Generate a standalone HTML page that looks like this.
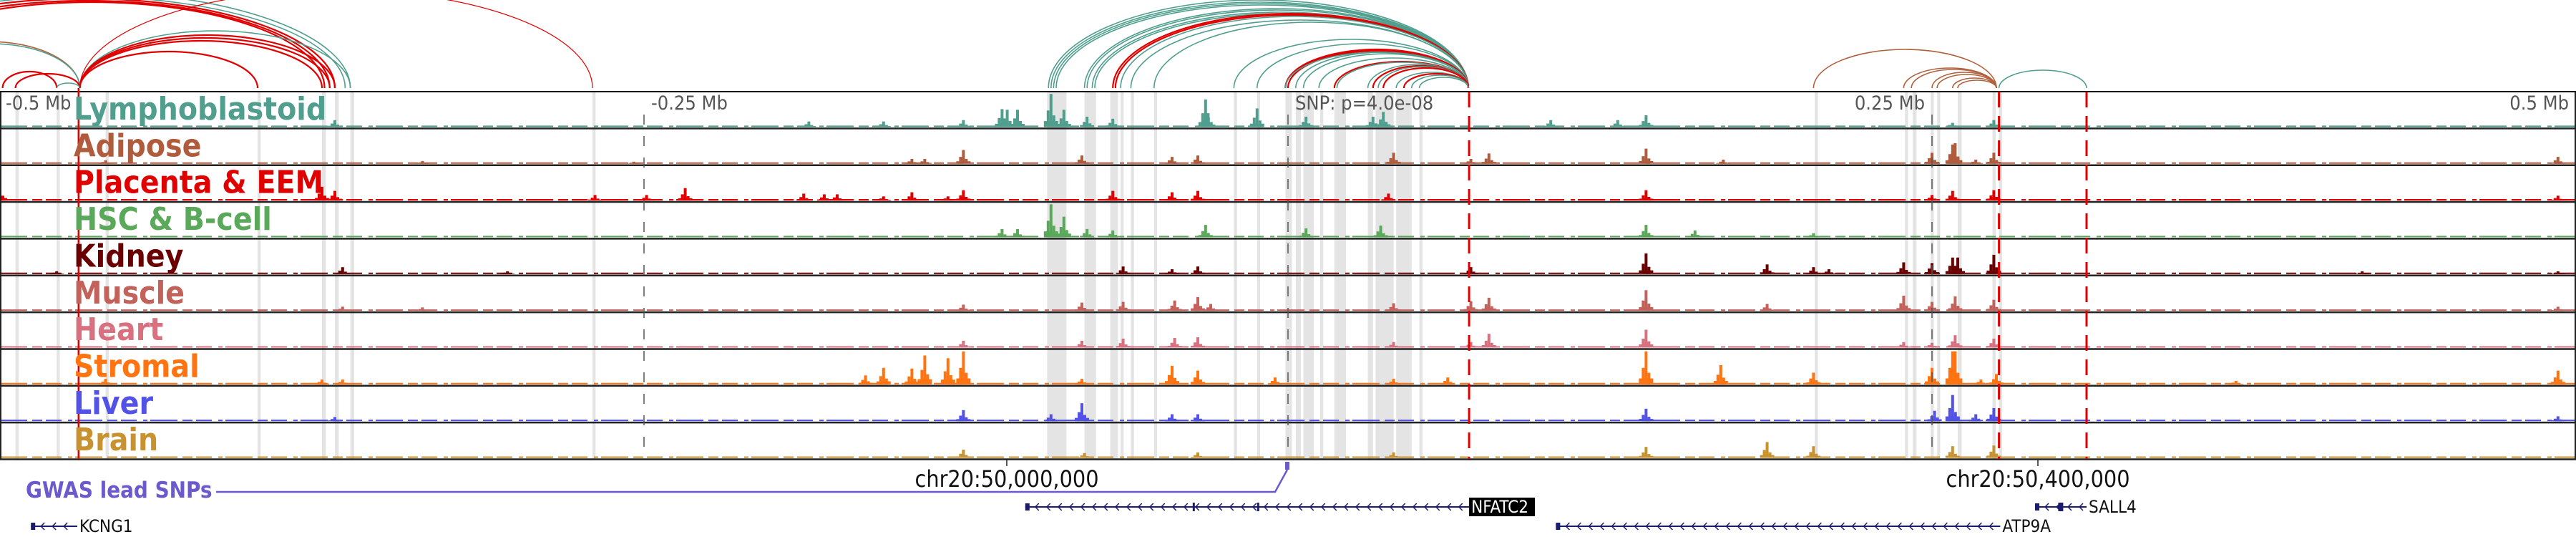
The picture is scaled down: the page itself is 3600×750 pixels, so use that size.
<!DOCTYPE html>
<html><head><meta charset="utf-8">
<style>
html,body{margin:0;padding:0;background:#fff;}
svg{display:block;}
text{font-family:"DejaVu Sans Condensed","DejaVu Sans","Liberation Sans",sans-serif;}
</style></head>
<body>
<svg id="chart" width="3600" height="750" viewBox="0 0 3600 750" xmlns="http://www.w3.org/2000/svg">
<g id="arcs"></g>
<g id="bands"></g>
<g id="tracks"></g>
<g id="lines"></g>
<g id="labels"></g>
<g id="bottom"></g>
</svg>
<script>
// ---- data ----
const trackNames = ["Lymphoblastoid","Adipose","Placenta & EEM","HSC & B-cell","Kidney","Muscle","Heart","Stromal","Liver","Brain"];
const trackColors = ["#4f9e8e","#b05c3c","#e00000","#5aa85a","#6b0000","#c3625a","#d8707f","#ff7410","#5252e6","#c8922e"];
// peaks: [kb offset from SNP, signal height]
const peaksLympho = [[-370,10],[-186,8],[-157,8],[-126,10],[-111,26],[-109,25],[-105,25],[-92,48],[-87,25],[-78,15],[-68,12],[-32,40],[-31,20],[-12,27],[7,15],[33,15],[37,22],[102,10],[128,10],[139,17],[258,6],[274,10]];
const peaksAdipose = [[-459,5],[-336,4],[-254,3],[-146,7],[-141,7],[-126,20],[-80,12],[-45,10],[-35,12],[41,16],[71,7],[78,15],[139,22],[169,6],[250,16],[258,28],[259,30],[267,6],[274,16],[493,10]];
const peaksPlacenta = [[-500,20],[-375,20],[-370,14],[-269,8],[-249,8],[-234,18],[-188,10],[-180,9],[-175,9],[-157,6],[-146,12],[-132,6],[-126,15],[-68,14],[-45,12],[-35,14],[39,10],[139,15],[250,8],[258,14],[274,15],[493,7]];
const peaksHSC = [[-111,12],[-105,12],[-92,48],[-87,30],[-78,12],[-68,10],[-32,18],[7,13],[36,17],[139,18],[158,10],[204,6]];
const peaksKidney = [[-478,4],[-367,10],[-303,4],[-64,11],[-45,7],[-35,11],[71,10],[139,30],[186,14],[204,10],[210,7],[239,17],[250,16],[258,24],[260,24],[274,28],[417,4],[493,4]];
const peaksMuscle = [[-367,6],[-336,5],[-126,9],[-80,12],[-64,13],[-44,15],[-35,20],[-30,10],[41,11],[71,14],[78,19],[139,30],[186,10],[239,22],[250,13],[259,21],[274,16],[493,6]];
const peaksHeart = [[-126,10],[-80,10],[-64,13],[-44,14],[-35,15],[41,8],[71,8],[78,20],[139,26],[239,8],[250,7],[259,18],[274,13]];
const peaksStromal = [[-459,8],[-375,7],[-367,7],[-164,13],[-157,24],[-146,23],[-141,42],[-132,38],[-126,48],[-80,8],[-45,27],[-35,20],[-5,10],[41,8],[62,10],[139,48],[168,28],[204,17],[250,24],[258,48],[259,48],[269,7],[275,15],[368,5],[493,20]];
const peaksLiver = [[-370,6],[-126,16],[-92,10],[-80,26],[-45,10],[-35,10],[139,18],[251,15],[258,38],[267,10],[274,19],[493,7]];
const peaksBrain = [[-126,12],[-79,7],[-35,8],[41,8],[139,16],[186,23],[204,17],[258,17],[274,18]];
const allPeaks = [peaksLympho,peaksAdipose,peaksPlacenta,peaksHSC,peaksKidney,peaksMuscle,peaksHeart,peaksStromal,peaksLiver,peaksBrain];
// highlight bands [start kb, width kb]
const bandStarts = [-494,-478,-459,-400,-375,-370,-364,-270,-93.5,-79,-69,-65,-61,-52,-21,-12,-1,3,6,12.5,18,31,34,42,51,204.5,239.5,242.5,249.5,252,260,273.5,276];
const bandWidths = [1.2,1.2,1.2,1.2,1.5,1.5,1.5,1.2,7.5,4.5,3,1.2,1.2,1.2,1.2,1.2,2.5,2,4,1.2,4.5,2,7,6,1.2,1.2,1.2,1.5,1.2,1.2,1.5,1.2,1.2];
// axis ticks
const tickKb = [-500,-250,0,250,500];
const tickText = ["-0.5 Mb","-0.25 Mb","SNP: p=4.0e-08","0.25 Mb","0.5 Mb"];
const redDashedKb = [70.3,276,310];
const redSolidKb = -469.5;
// arcs: start kb, end kb, height, color key
const arcStart = [-93,-92,-91,-90,-79,-78,-76,-75,-68,-67,-65,-61,-52,-21,-12,-1,-1,0,-1,3,6,12,18,19,31,33,35,37,42,45,48,51,
  -575,-570,-565,-560,-555,-469,-469,-469,-469,-469,-540,-538,-499,-494,-478,-469,
  204,239,242,250,252,258,260,276];
const arcEnd = [70,70,70,70,70,70,70,70,70,70,70,70,70,70,70,70,70,70,70,70,70,70,70,70,70,70,70,70,70,70,70,70,
  -364,-366,-370,-372,-374,-364,-370,-372,-375,-400,-469,-469,-478,-469,-469,-270,
  275,275,275,275,275,275,275,310];
const arcHeight = [123,120,118,116,111,109,106,104,104,102,100,95,92,68,62,54,53,52,50,50,48,42,37,36,33,31,30,28,22,20,18,15,
  135,128,125,122,120,80,74,70,66,51,65,62,23,20,7,137,
  54,28,26,22,19,14,11,25];
const arcColor = ["t","t","t","t","t","t","t","t","r","r","t","t","t","t","t","r","r","r","t","t","t","t","r","t","t","r","t","r","t","r","t","t",
  "t","t","r","r","r","t","r","r","r","r","b","t","r","r","t","r",
  "b","b","b","b","b","b","b","t"];
const genes = ["KCNG1","NFATC2","ATP9A","SALL4"];
const geneStart = [-488,-102,104,290];
const geneEnd = [-470,70.3,276.5,310];
const geneRow = [1,0,1,0];

// ---- scales ----
const NS = "http://www.w3.org/2000/svg";
const xS = kb => 1800 + kb * 3.6;
const trackTop = i => 128 + i * 51.35;
const trackH = 51.35;
const yH = h => h * 0.96;
const arcBase = 123;
const colorMap = {t:"#4f9e8e", r:"#e00000", b:"#b0603c"};
function mk(tag, attrs, parent){const e=document.createElementNS(NS,tag);for(const k in attrs)e.setAttribute(k,attrs[k]);parent.appendChild(e);return e;}

// arcs
const gA = document.getElementById('arcs');
arcStart.forEach((s,i)=>{
  const x1=xS(s), x2=xS(arcEnd[i]), rx=(x2-x1)/2, ry=arcHeight[i];
  const thin = (s===-469 && arcEnd[i]===-270);
  const p = mk('path',{d:`M${x1},${arcBase} A${rx},${ry} 0 0 1 ${x2},${arcBase}`,fill:'none',stroke:colorMap[arcColor[i]],'stroke-width':thin?1.2:(arcColor[i]==='r'?2.2:1.6)},gA);
  
  
});

// bands
const gB = document.getElementById('bands');
bandStarts.forEach((s,i)=>{
  const r = mk('rect',{x:xS(s),y:128,width:Math.max(4,bandWidths[i]*3.6),height:513.5,fill:'#e4e4e4'},gB);
  
  
});

// tracks
const gT = document.getElementById('tracks');
mk('line',{x1:0,y1:128,x2:3600,y2:128,stroke:'#111','stroke-width':2},gT);
allPeaks.forEach((peaks,ti)=>{
  const g = mk('g',{},gT);
  
  
  const col = trackColors[ti];
  const base = trackTop(ti)+trackH-2;
  mk('line',{x1:0,y1:base-1,x2:3600,y2:base-1,stroke:col,'stroke-width':2,'stroke-dasharray':'38 7 14 5 22 9 6 4'},g);
  peaks.forEach(p=>{
    const cx=xS(p[0]), h=yH(p[1]);
    const b = mk('rect',{x:cx-2,y:base-h,width:4,height:h,fill:col},g);
    
    
    mk('rect',{x:cx-6,y:base-h*0.5,width:4,height:h*0.5,fill:col},g);
    mk('rect',{x:cx+2,y:base-h*0.35,width:4,height:h*0.35,fill:col},g);
    mk('rect',{x:cx-10,y:base-h*0.18,width:20,height:h*0.18,fill:col},g);
  });
  mk('line',{x1:0,y1:trackTop(ti)+trackH,x2:3600,y2:trackTop(ti)+trackH,stroke:'#222','stroke-width':2.5},g);
});
mk('line',{x1:1,y1:128,x2:1,y2:641.5,stroke:'#222','stroke-width':2},gT);
mk('line',{x1:3599,y1:128,x2:3599,y2:641.5,stroke:'#222','stroke-width':2},gT);

// marker lines
const gL = document.getElementById('lines');
tickKb.forEach((k,i)=>{
  if(i>0 && i<4){
    const l = mk('line',{x1:xS(k),y1:160,x2:xS(k),y2:641,stroke:'#555','stroke-width':1.5,'stroke-dasharray':'14 16'},gL);
    
    
  }
  const anchor = i>=3 ? 'end':'start';
  const x = i===0 ? 8 : (i>=3 ? xS(k)-10 : xS(k)+10);
  const t = mk('text',{x:x,y:153,'font-size':27,fill:'#555','text-anchor':anchor},gL);
  t.textContent = tickText[i];
  
  
});
redDashedKb.forEach(k=>{
  const l = mk('line',{x1:xS(k),y1:128,x2:xS(k),y2:641,stroke:'#e00000','stroke-width':3,'stroke-dasharray':'22 12'},gL);
  
  
});
const rs = mk('line',{x1:xS(redSolidKb),y1:123,x2:xS(redSolidKb),y2:641,stroke:'#e00000','stroke-width':2.5},gL);



// labels
const gLab = document.getElementById('labels');
trackNames.forEach((n,i)=>{
  const t = mk('text',{x:103,y:trackTop(i)+39,'font-size':44,'font-weight':'bold',fill:trackColors[i]},gLab);
  t.textContent = n;
  
  
});

// bottom: coords, GWAS, genes
const gBo = document.getElementById('bottom');
[[1407,"chr20:50,000,000"],[2848,"chr20:50,400,000"]].forEach(c=>{
  mk('line',{x1:c[0],y1:641,x2:c[0],y2:651,stroke:'#222','stroke-width':1.5},gBo);
  const t = mk('text',{x:c[0],y:680,'font-size':32,fill:'#111','text-anchor':'middle'},gBo);
  t.textContent = c[1];
  
  
});
const gw = mk('text',{x:36,y:695,'font-size':31,'font-weight':'bold',fill:'#6a5acd'},gBo);
gw.textContent = "GWAS lead SNPs";


const gl = mk('polyline',{points:`302,687 1782,687 1799,656`,fill:'none',stroke:'#6a5acd','stroke-width':2.5},gBo);


const gm = mk('rect',{x:1796,y:645,width:6,height:11,fill:'#6a5acd'},gBo);



genes.forEach((g,i)=>{
  const y = geneRow[i] ? 735 : 708;
  const x1 = xS(geneStart[i]), x2 = xS(geneEnd[i]);
  const grp = mk('g',{},gBo);
  
  
  mk('line',{x1:x1,y1:y,x2:x2,y2:y,stroke:'#1c1c6e','stroke-width':2},grp);
  mk('rect',{x:x1,y:y-5,width:6,height:10,fill:'#1c1c6e'},grp);
  for(let x=x1+14;x<x2-4;x+=16){
    mk('polyline',{points:`${x+5},${y-5} ${x},${y} ${x+5},${y+5}`,fill:'none',stroke:'#1c1c6e','stroke-width':1.5},grp);
  }
  if(g==="NFATC2"){
    mk('rect',{x:x2,y:y-13,width:92,height:26,fill:'#000'},grp);
    mk('rect',{x:xS(-37),y:y-6,width:3,height:12,fill:'#1c1c6e'},grp);
    mk('rect',{x:xS(-12),y:y-6,width:3,height:12,fill:'#1c1c6e'},grp);
  }
  if(g==="SALL4"){ mk('rect',{x:xS(299),y:y-6,width:7,height:12,fill:'#1c1c6e'},grp); }
  const t = mk('text',{x:x2+3,y:y+8,'font-size':24,fill:g==="NFATC2"?'#fff':'#111'},grp);
  t.textContent = g;
  
  
});
</script>
</body></html>
